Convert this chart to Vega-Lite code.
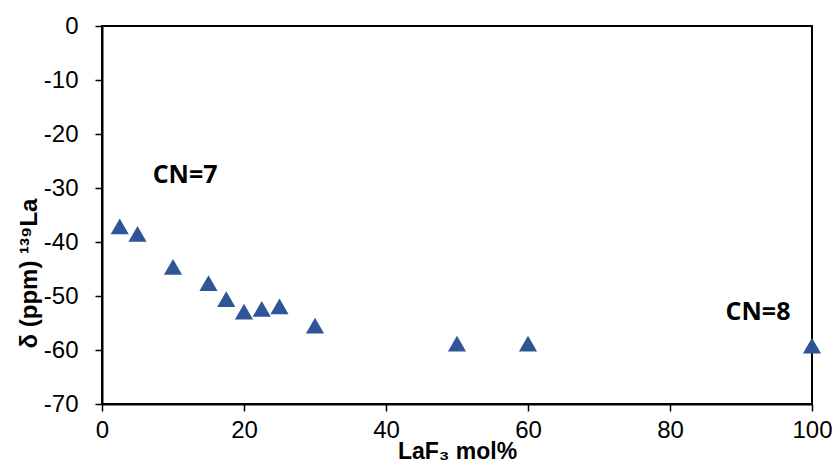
{
  "$schema": "https://vega.github.io/schema/vega-lite/v6.json",
  "width": 710,
  "height": 378,
  "autosize": {"type": "none"},
  "padding": {"left": 102, "top": 26, "right": 22, "bottom": 68},
  "background": "white",
  "config": {
    "view": {"stroke": "black", "strokeWidth": 2},
    "font": "Liberation Sans"
  },
  "layer": [
    {
      "data": {"values": [
        {"x": 2.5, "y": -37.1},
        {"x": 5, "y": -38.5},
        {"x": 10, "y": -44.6},
        {"x": 15, "y": -47.6},
        {"x": 17.5, "y": -50.6},
        {"x": 20, "y": -52.9},
        {"x": 22.5, "y": -52.4},
        {"x": 25, "y": -51.9},
        {"x": 30, "y": -55.5},
        {"x": 50, "y": -58.8},
        {"x": 60, "y": -58.8},
        {"x": 100, "y": -59.2}
      ]},
      "mark": {"type": "point", "shape": "triangle-up", "filled": true, "size": 330, "color": "#2F5597", "opacity": 1},
      "encoding": {
        "x": {
          "field": "x", "type": "quantitative",
          "scale": {"domain": [0, 100], "nice": false, "zero": false},
          "axis": {
            "values": [0, 20, 40, 60, 80, 100],
            "grid": false, "domainColor": "black", "domainWidth": 2,
            "tickColor": "black", "tickWidth": 1.5, "tickSize": 7,
            "labelFontSize": 24, "labelColor": "black", "labelPadding": 7,
            "labelFlush": false,
            "title": "LaF₃ mol%", "titleFontSize": 23, "titleFontWeight": "bold",
            "titleColor": "black", "titlePadding": -2
          }
        },
        "y": {
          "field": "y", "type": "quantitative",
          "scale": {"domain": [-70, 0], "nice": false, "zero": false},
          "axis": {
            "values": [0, -10, -20, -30, -40, -50, -60, -70],
            "labelExpr": "replace(datum.label, '−', '-')",
            "grid": false, "domainColor": "black", "domainWidth": 2,
            "tickColor": "black", "tickWidth": 1.5, "tickSize": 7,
            "labelFontSize": 24, "labelColor": "black", "labelPadding": 17,
            "labelFlush": false,
            "title": "δ (ppm) ¹³⁹La", "titleFontSize": 24, "titleFontWeight": "bold",
            "titleColor": "black", "titleAngle": 270, "titleX": -73, "titleY": 247,
            "titleAlign": "center", "titleBaseline": "middle"
          }
        }
      }
    },
    {
      "data": {"values": [
        {"x": 11.7, "y": -27.5, "label": "CN=7"},
        {"x": 92.4, "y": -53.0, "label": "CN=8"}
      ]},
      "mark": {"type": "text", "fontSize": 25, "fontWeight": "bold", "font": "Open Sans", "color": "black", "align": "center", "baseline": "middle"},
      "encoding": {
        "x": {"field": "x", "type": "quantitative"},
        "y": {"field": "y", "type": "quantitative"},
        "text": {"field": "label"}
      }
    }
  ]
}
